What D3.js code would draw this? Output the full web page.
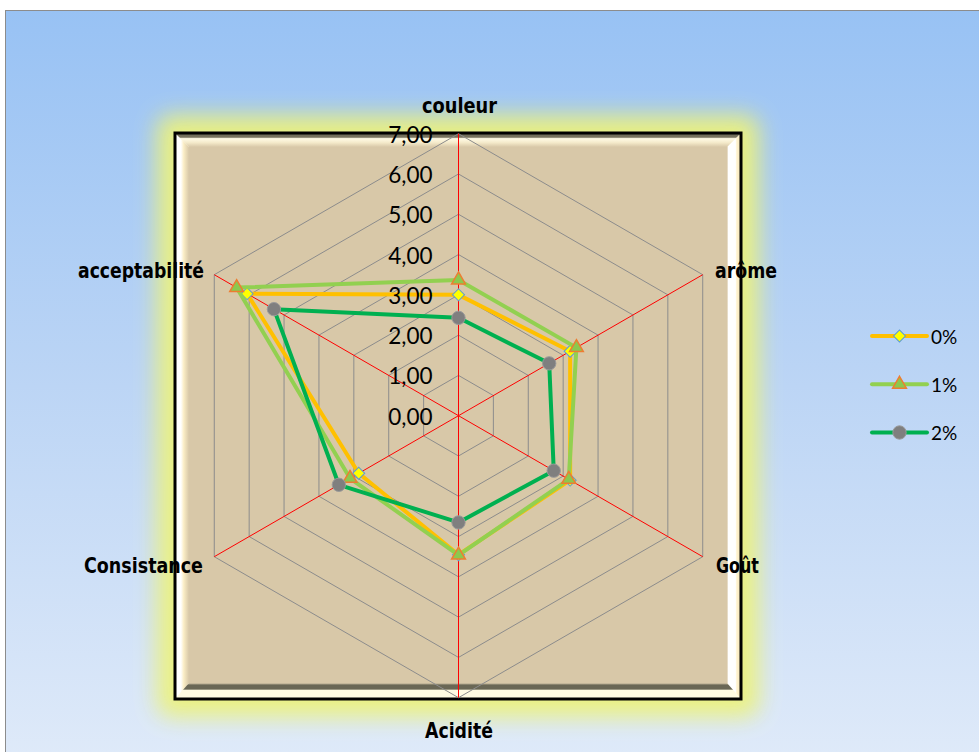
<!DOCTYPE html>
<html>
<head>
<meta charset="utf-8">
<script src="https://cdn.jsdelivr.net/npm/d3@7"></script>
<style>
  html, body { margin: 0; padding: 0; background: #ffffff; }
  svg { display: block; }
</style>
</head>
<body>
<svg id="chart" width="979" height="752"></svg>
<script>
// Sensory scores per attribute for each enrichment level
const categories = ["couleur", "arôme", "Goût", "Acidité", "Consistance", "acceptabilité"];
const seriesNames = ["0%", "1%", "2%"];
const values0 = [3.00, 3.20, 3.20, 3.45, 2.86, 6.06];
const values1 = [3.37, 3.38, 3.16, 3.46, 3.11, 6.36];
const values2 = [2.43, 2.60, 2.73, 2.65, 3.43, 5.29];
const tickValues = [0, 1, 2, 3, 4, 5, 6, 7];

const svg = d3.select("#chart");
const W = 979, H = 752;
const cx = 458.5, cy = 415.7;
const R = 282;

const r = d3.scaleLinear().domain([0, 7]).range([0, R]);
const ang = (i) => i * 2 * Math.PI / categories.length;

const fr = d3.formatLocale({ decimal: ",", thousands: " ", grouping: [3], currency: ["", " €"] });
const tickFmt = fr.format(".2f");

const defs = svg.append("defs");

// Chart area background
const bg = defs.append("linearGradient").attr("id", "bg").attr("x1", 0).attr("y1", 0).attr("x2", 0).attr("y2", 1);
bg.append("stop").attr("offset", 0).attr("stop-color", "#98c2f4");
bg.append("stop").attr("offset", 0.5).attr("stop-color", "#bcd5f5");
bg.append("stop").attr("offset", 1).attr("stop-color", "#dfeaf9");
svg.append("rect").attr("x", 5.5).attr("y", 10.5).attr("width", W).attr("height", H)
  .attr("fill", "url(#bg)").attr("stroke", "#8c8c8c").attr("stroke-width", 1);

// Plot panel geometry
const x0 = 175, y0 = 133, x1 = 741, y1 = 699, b = 14;

// Soft glow around the panel
const glow = defs.append("filter").attr("id", "glow").attr("x", "-20%").attr("y", "-20%").attr("width", "140%").attr("height", "140%");
glow.append("feGaussianBlur").attr("stdDeviation", 11);
svg.append("rect").attr("x", x0 - 18).attr("y", y0 - 18).attr("width", x1 - x0 + 36).attr("height", y1 - y0 + 36)
  .attr("rx", 14).attr("fill", "#ecf27c").attr("opacity", 0.95).attr("filter", "url(#glow)");

// Panel base
svg.append("rect").attr("x", x0).attr("y", y0).attr("width", x1 - x0).attr("height", y1 - y0).attr("fill", "#fffbe4");

function grad(id, horiz, from, to, stops) {
  const g = defs.append("linearGradient").attr("id", id).attr("gradientUnits", "userSpaceOnUse");
  if (horiz) g.attr("x1", from).attr("x2", to).attr("y1", 0).attr("y2", 0);
  else g.attr("y1", from).attr("y2", to).attr("x1", 0).attr("x2", 0);
  stops.forEach(s => g.append("stop").attr("offset", s[0]).attr("stop-color", s[1]));
}
grad("bvTop", false, y0, y0 + b, [[0, "#6a6755"], [0.3, "#78735f"], [0.4, "#fffbe6"], [0.7, "#f4e9c9"], [1, "#d8c8a8"]]);
grad("bvBottom", false, y1 - b - 2, y1, [[0, "#d8c8a8"], [0.06, "#b2a88e"], [0.12, "#6a6755"], [0.38, "#6a6755"], [0.46, "#fffbe2"], [1, "#fffbe2"]]);
grad("bvLeft", true, x0, x0 + b, [[0, "#ffffff"], [0.42, "#ffffff"], [0.62, "#fbeec6"], [1, "#d8c8a8"]]);
grad("bvRight", true, x1 - b, x1, [[0, "#d8c8a8"], [0.1, "#ffffff"], [0.6, "#ffffff"], [0.7, "#fff3cf"], [1, "#f6e6b6"]]);

const bvPoly = (pts, fill) => svg.append("polygon").attr("points", pts.map(p => p.join(",")).join(" ")).attr("fill", fill);
bvPoly([[x0, y0], [x0 + b, y0 + b], [x0 + b, y1 - b - 2], [x0, y1]], "url(#bvLeft)");
bvPoly([[x1, y0], [x1 - b, y0 + b], [x1 - b, y1 - b - 2], [x1, y1]], "url(#bvRight)");
bvPoly([[x0, y0], [x1, y0], [x1 - b, y0 + b], [x0 + b, y0 + b]], "url(#bvTop)");
bvPoly([[x0, y1], [x1, y1], [x1 - b, y1 - b - 2], [x0 + b, y1 - b - 2]], "url(#bvBottom)");
svg.append("rect").attr("x", x0 + b).attr("y", y0 + b).attr("width", x1 - x0 - 2 * b).attr("height", y1 - y0 - 2 * b - 2)
  .attr("fill", "#d8c8a8");
svg.append("rect").attr("x", x0).attr("y", y0).attr("width", x1 - x0).attr("height", y1 - y0)
  .attr("fill", "none").attr("stroke", "#000000").attr("stroke-width", 3);

// Radar grid
const ringLine = d3.lineRadial().angle((d, i) => ang(i)).radius(d => r(d)).curve(d3.curveLinearClosed);
const grid = svg.append("g").attr("transform", `translate(${cx},${cy})`);
tickValues.filter(v => v > 0).forEach(v => {
  grid.append("path").attr("d", ringLine(categories.map(() => v)))
    .attr("fill", "none").attr("stroke", "#8c8c8c").attr("stroke-width", 1);
});
categories.forEach((c, i) => {
  grid.append("line").attr("x1", 0).attr("y1", 0)
    .attr("x2", r(7) * Math.sin(ang(i))).attr("y2", -r(7) * Math.cos(ang(i)))
    .attr("stroke", "#ff0000").attr("stroke-width", 1);
});

// Series
const series = [
  { name: seriesNames[0], values: values0, color: "#ffc000", symbol: "diamond", fill: "#ffff00", stroke: "#5b9bd5" },
  { name: seriesNames[1], values: values1, color: "#92d050", symbol: "triangle", fill: "#8cc84e", stroke: "#ed7d31" },
  { name: seriesNames[2], values: values2, color: "#00b050", symbol: "circle", fill: "#7f7f7f", stroke: "#9a9a9a" }
];
function symPath(s) {
  if (s.symbol === "diamond") return d3.symbol().type(d3.symbolSquare).size(72)();
  if (s.symbol === "triangle") return d3.symbol().type(d3.symbolTriangle).size(82)();
  return d3.symbol().type(d3.symbolCircle).size(140)();
}
function drawMarker(g, s, x, y) {
  g.append("path").attr("d", symPath(s))
    .attr("transform", `translate(${x},${y})` + (s.symbol === "diamond" ? " rotate(45)" : ""))
    .attr("fill", s.fill).attr("stroke", s.stroke).attr("stroke-width", s.symbol === "triangle" ? 1.5 : 1);
}

const plot = svg.append("g").attr("transform", `translate(${cx},${cy})`);
series.forEach(s => {
  plot.append("path").attr("d", ringLine(s.values))
    .attr("fill", "none").attr("stroke", s.color).attr("stroke-width", 4).attr("stroke-linejoin", "round");
  s.values.forEach((v, i) => drawMarker(plot, s, r(v) * Math.sin(ang(i)), -r(v) * Math.cos(ang(i))));
});

// Radial tick labels
svg.append("g").selectAll("text").data(tickValues).join("text")
  .attr("x", cx - 26).attr("y", d => cy - r(d) + 9)
  .attr("text-anchor", "end")
  .attr("font-family", "Lato, 'Open Sans', sans-serif").attr("font-size", 22.5).attr("fill", "#000")
  .text(d => tickFmt(d));

// Category labels
const catFont = "'DejaVu Sans Condensed', 'Liberation Sans Narrow', sans-serif";
const catPos = [
  { x: 459.5, y: 113, anchor: "middle", w: 75 },
  { x: 715, y: 278, anchor: "start", w: 62 },
  { x: 716, y: 573, anchor: "start", w: 43 },
  { x: 459, y: 738, anchor: "middle", w: 68 },
  { x: 203, y: 573, anchor: "end", w: 119 },
  { x: 204, y: 278, anchor: "end", w: 126 }
];
svg.append("g").selectAll("text").data(categories).join("text")
  .attr("x", (d, i) => catPos[i].x).attr("y", (d, i) => catPos[i].y)
  .attr("text-anchor", (d, i) => catPos[i].anchor)
  .attr("textLength", (d, i) => catPos[i].w).attr("lengthAdjust", "spacingAndGlyphs")
  .attr("font-family", catFont).attr("font-weight", "bold").attr("font-size", 22).attr("fill", "#000")
  .text(d => d);

// Legend
const legend = svg.append("g");
const legY = d3.scalePoint().domain(seriesNames).range([336, 432.5]);
series.forEach(s => {
  const y = legY(s.name);
  legend.append("line").attr("x1", 872).attr("x2", 927).attr("y1", y).attr("y2", y)
    .attr("stroke", s.color).attr("stroke-width", 4).attr("stroke-linecap", "round");
  drawMarker(legend, s, 899.5, y);
  legend.append("text").attr("x", 931).attr("y", y + 7.5)
    .attr("font-family", "Lato, 'Open Sans', sans-serif").attr("font-size", 19).attr("fill", "#000")
    .text(s.name);
});
</script>
</body>
</html>
